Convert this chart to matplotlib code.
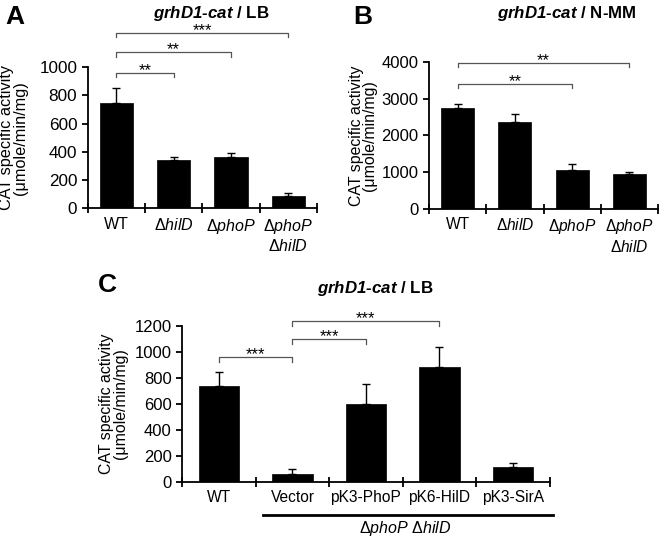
import matplotlib
matplotlib.use("Agg")
import matplotlib.pyplot as plt
import numpy as np

plt.rcParams['font.family'] = ['Liberation Sans', 'DejaVu Sans']
plt.rcParams['mathtext.fontset'] = 'custom'
plt.rcParams['mathtext.rm'] = 'Liberation Sans'
plt.rcParams['mathtext.it'] = 'Liberation Sans:italic'
plt.rcParams['mathtext.bf'] = 'Liberation Sans:bold'
plt.rcParams['mathtext.bfit'] = 'Liberation Sans:italic:bold'

# panel A: grhD1-cat / LB
a_labels = ['WT', r'$\Delta\mathit{hilD}$', r'$\Delta\mathit{phoP}$',
            '$\\Delta\\mathit{phoP}$\n$\\Delta\\mathit{hilD}$']
a_values = [745, 340, 362, 85]
a_errors = [105, 22, 28, 20]
a_sig = [(0, 1, 960, '**'), (0, 2, 1105, '**'), (0, 3, 1245, '***')]

# panel B: grhD1-cat / N-MM
b_labels = a_labels
b_values = [2750, 2370, 1050, 940]
b_errors = [110, 200, 170, 50]
b_sig = [(0, 2, 3400, '**'), (0, 3, 3970, '**')]

# panel C: grhD1-cat / LB, complementation
c_labels = ['WT', 'Vector', 'pK3-PhoP', 'pK6-HilD', 'pK3-SirA']
c_values = [740, 60, 600, 885, 115]
c_errors = [110, 40, 155, 155, 30]
c_sig = [(0, 1, 960, '***'), (1, 2, 1100, '***'), (1, 3, 1238, '***')]

ylabel = 'CAT specific activity\n(\u03bcmole/min/mg)'


def panel(ax, labels, values, errors, ymax, step, sig, leg, width, fs):
    n = len(values)
    x = np.arange(n)
    ax.bar(x, values, width=width, color='black', edgecolor='black', lw=0.5)
    ax.errorbar(x, values, yerr=[np.zeros(n), errors], fmt='none',
                ecolor='black', elinewidth=1, capsize=2.7, capthick=1)
    ax.set_xlim(-0.5, n - 0.5)
    ax.set_ylim(0, ymax)
    ax.set_yticks(np.arange(0, ymax + 1, step))
    ax.set_xticks(np.arange(-0.5, n, 1.0))
    ax.set_xticklabels([])
    ax.set_xticks(x, minor=True)
    ax.set_xticklabels(labels, minor=True)
    ax.tick_params(axis='x', which='major', direction='inout', length=7, width=1.3)
    ax.tick_params(axis='x', which='minor', length=0, pad=6, labelsize=fs - 0.8)
    ax.tick_params(axis='y', direction='out', length=4, width=1.3, labelsize=fs)
    for s in ['top', 'right']:
        ax.spines[s].set_visible(False)
    for s in ['left', 'bottom']:
        ax.spines[s].set_linewidth(1.3)
    ax.set_ylabel(ylabel, fontsize=fs - 0.6, linespacing=0.9)
    for i, j, y, txt in sig:
        ax.plot([x[i], x[i], x[j], x[j]], [y - leg, y, y, y - leg],
                color='#555555', lw=0.9, clip_on=False)
        ax.annotate(txt, ((x[i] + x[j]) / 2, y), xytext=(0, -1.5),
                    textcoords='offset points', ha='center', va='baseline',
                    fontsize=12, annotation_clip=False)


def title(ax, x, y, medium):
    ax.text(x, y, r'$\mathbfit{grhD1}$-$\mathbfit{cat}$ / ' + medium,
            transform=ax.transAxes, ha='center', va='center',
            fontsize=12.2, fontweight='bold')


fig = plt.figure(figsize=(6.6, 5.38), dpi=100)

axA = fig.add_axes([0.133, 0.613, 0.347, 0.262])
panel(axA, a_labels, a_values, a_errors, 1000, 200, a_sig, 30, 0.58, 12.3)
axA.yaxis.set_label_coords(-0.262, 0.5)
title(axA, 0.54, 1.38, 'LB')

axB = fig.add_axes([0.650, 0.612, 0.347, 0.273])
panel(axB, b_labels, b_values, b_errors, 4000, 1000, b_sig, 100, 0.58, 12)
axB.yaxis.set_label_coords(-0.225, 0.5)
title(axB, 0.6, 1.33, 'N-MM')

axC = fig.add_axes([0.276, 0.104, 0.557, 0.290])
panel(axC, c_labels, c_values, c_errors, 1200, 200, c_sig, 40, 0.55, 12)
axC.yaxis.set_label_coords(-0.147, 0.5)
title(axC, 0.525, 1.24, 'LB')
trans = axC.get_xaxis_transform()
axC.plot([0.6, 4.55], [-0.21, -0.21], color='black', lw=2, transform=trans, clip_on=False)
axC.text(2.53, -0.30, r'$\Delta\mathit{phoP}$ $\Delta\mathit{hilD}$', transform=trans,
         ha='center', va='center', fontsize=11.5)

fig.text(15 / 660, 1 - 17 / 538, 'A', fontsize=19, fontweight='bold', ha='center', va='center')
fig.text(363 / 660, 1 - 17 / 538, 'B', fontsize=19, fontweight='bold', ha='center', va='center')
fig.text(107 / 660, 1 - 285 / 538, 'C', fontsize=19, fontweight='bold', ha='center', va='center')

fig.savefig('out.png', dpi=100)
